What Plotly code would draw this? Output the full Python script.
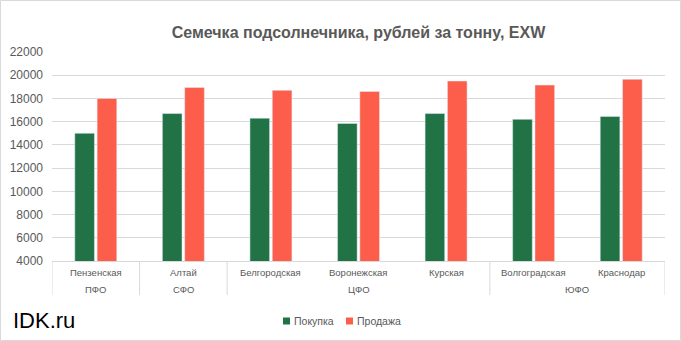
import plotly.graph_objects as go

cities = ["Пензенская", "Алтай", "Белгородская", "Воронежская", "Курская", "Волгоградская", "Краснодар"]
regions = ["ПФО", "СФО", "ЦФО", "ЮФО"]
region_spans = [(0, 0), (1, 1), (2, 4), (5, 6)]  # first/last city index of each region
buy = [15000, 16700, 16300, 15850, 16700, 16200, 16450]
sell = [18000, 18950, 18700, 18600, 19500, 19150, 19650]
series_names = ["Покупка", "Продажа"]
y_ticks = list(range(4000, 22001, 2000))

GREEN = "#217346"
RED = "#FD5E4C"
GRAY_TXT = "#595959"
GRID = "#d9d9d9"
FONT = "Liberation Sans, Arial, sans-serif"

W, H = 681, 341
ML, MR, MT, MB = 52, 16, 52, 80
PW, PH = W - ML - MR, H - MT - MB


def px_to_paper_x(px):
    return (px - ML) / PW


def px_to_paper_y(py):
    return (H - MB - py) / PH


fig = go.Figure()
fig.add_trace(go.Bar(x=cities, y=buy, name=series_names[0], marker_color=GREEN, showlegend=False))
fig.add_trace(go.Bar(x=cities, y=sell, name=series_names[1], marker_color=RED, showlegend=False))

shapes = []
annotations = []

# divider lines below the axis
div_pos = [-0.5] + [span[1] + 0.5 for span in region_spans]
for d in div_pos:
    shapes.append(dict(type="line", xref="x", yref="paper", x0=d, x1=d,
                       y0=0, y1=px_to_paper_y(295), line=dict(color=GRID, width=1)))

# city labels
for i, c in enumerate(cities):
    annotations.append(dict(xref="x", yref="paper", x=i, y=px_to_paper_y(272.5), text=c,
                            showarrow=False, xanchor="center", yanchor="middle",
                            font=dict(family=FONT, size=9.5, color=GRAY_TXT)))
# region labels
for r, (a, b) in zip(regions, region_spans):
    annotations.append(dict(xref="x", yref="paper", x=(a + b) / 2, y=px_to_paper_y(289), text=r,
                            showarrow=False, xanchor="center", yanchor="middle",
                            font=dict(family=FONT, size=9.5, color=GRAY_TXT)))

# watermark
annotations.append(dict(xref="paper", yref="paper", x=px_to_paper_x(11), y=px_to_paper_y(320), text="IDK.ru",
                        showarrow=False, xanchor="left", yanchor="middle",
                        font=dict(family=FONT, size=22, color="#000000")))

# legend (manual)
leg = [(283, GREEN, series_names[0]), (346, RED, series_names[1])]
for x0, col, name in leg:
    shapes.append(dict(type="rect", xref="paper", yref="paper",
                       x0=px_to_paper_x(x0), x1=px_to_paper_x(x0 + 7),
                       y0=px_to_paper_y(324.5), y1=px_to_paper_y(317.5),
                       fillcolor=col, line=dict(width=0)))
    annotations.append(dict(xref="paper", yref="paper", x=px_to_paper_x(x0 + 8.5), y=px_to_paper_y(321), text=name,
                            showarrow=False, xanchor="left", yanchor="middle",
                            font=dict(family=FONT, size=10.5, color=GRAY_TXT)))

# outer border
shapes.append(dict(type="rect", xref="paper", yref="paper",
                   x0=px_to_paper_x(0.5), x1=px_to_paper_x(W - 0.5),
                   y0=px_to_paper_y(H - 0.5), y1=px_to_paper_y(0.5),
                   line=dict(color=GRID, width=1), fillcolor="rgba(0,0,0,0)", layer="below"))

fig.update_layout(
    width=W, height=H,
    margin=dict(l=ML, r=MR, t=MT, b=MB, pad=0, autoexpand=False),
    paper_bgcolor="white", plot_bgcolor="white",
    barmode="group", bargap=0.49, bargroupgap=0.12,
    title=dict(text="<b>Семечка подсолнечника, рублей за тонну, EXW</b>",
               xref="paper", x=0.5, xanchor="center",
               yref="container", y=1 - 32 / H, yanchor="middle",
               font=dict(family=FONT, size=16, color=GRAY_TXT)),
    xaxis=dict(showticklabels=False, ticks="", showgrid=False, showline=True, linecolor=GRID,
               linewidth=1, range=[-0.5, 6.5], zeroline=False, fixedrange=True, automargin=False),
    yaxis=dict(range=[4000, 22000], tickvals=y_ticks, ticktext=[str(v) for v in y_ticks],
               showgrid=True, gridcolor=GRID, gridwidth=1, automargin=False,
               zeroline=False, showline=False, ticks="", ticklabelstandoff=8,
               tickfont=dict(family=FONT, size=12, color=GRAY_TXT)),
    shapes=shapes, annotations=annotations,
    showlegend=False,
)

fig.write_html("out.html")
